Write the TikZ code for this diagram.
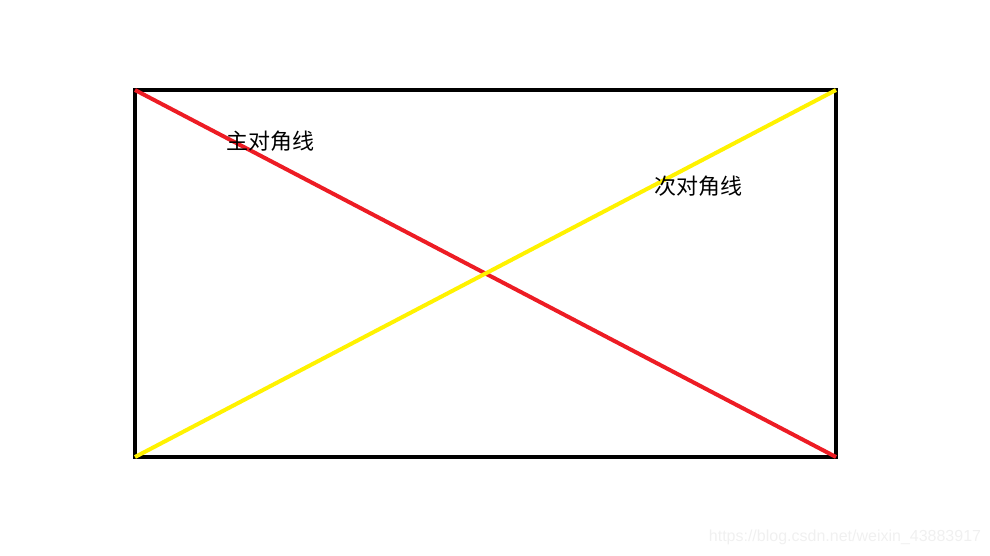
\documentclass[tikz,border=0pt]{standalone}
\usepackage{fontspec}
\usepackage{xcolor}
\usepackage{tikz}
\usetikzlibrary{positioning,calc}
\newfontfamily\cjk{Noto Sans CJK SC}
\newfontfamily\wmfont{Liberation Sans}
\definecolor{diagred}{HTML}{ED1C24}
\definecolor{diagyellow}{HTML}{FFF200}
\definecolor{wmgray}{HTML}{F0F0F0}

\begin{document}
\begin{tikzpicture}[x=1pt,y=-1pt,
    diagline/.style={line width=4pt},
    diaglabel/.style={font=\cjk\fontsize{22}{26}\selectfont, inner sep=0pt}]
    \useasboundingbox (0,0) rectangle (990,555);

    % corners
    \coordinate (tl) at (135,90);
    \coordinate (tr) at (836,90);
    \coordinate (br) at (836,457);
    \coordinate (bl) at (135,457);

    \draw[line width=4pt] (tl) -- (tr) -- (br) -- (bl) -- cycle;

    % main and secondary diagonal
    \draw[diagline, diagred] (tl) -- (br);
    \draw[diagline, diagyellow] (bl) -- (tr);

    \node[diaglabel] (mainlbl) at (270,141) {主对角线};
    \node[diaglabel] (seclbl) at (698,186) {次对角线};

    % watermark
    \node[font=\wmfont\fontsize{16}{19}\selectfont, text=wmgray, inner sep=0pt] (wm) at (845,537) {https://blog.csdn.net/weixin\_43883917};
\end{tikzpicture}
\end{document}
